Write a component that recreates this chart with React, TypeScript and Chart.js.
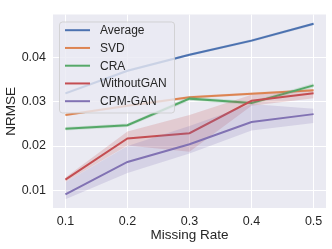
import React, { useEffect, useRef } from "react";
import { Chart, registerables } from "chart.js";

Chart.register(...registerables);

const rates = [0.1, 0.2, 0.3, 0.4, 0.5];
const xTicks = [0.1, 0.2, 0.3, 0.4, 0.5];
const yTicks = [0.01, 0.02, 0.03, 0.04];

const seriesNames = ["Average", "SVD", "CRA", "WithoutGAN", "CPM-GAN"];
const seriesColors = ["#4c72b0", "#dd8452", "#55a868", "#c44e52", "#8172b3"];

const averageMean = [0.0319, 0.037, 0.0406, 0.0438, 0.0476];
const averageLo = [0.0316, 0.0367, 0.0403, 0.0435, 0.0473];
const averageHi = [0.0322, 0.0373, 0.0409, 0.0441, 0.0479];

const svdMean = [0.027, 0.0291, 0.031, 0.0318, 0.0326];
const svdLo = [0.0267, 0.0288, 0.0307, 0.0315, 0.0323];
const svdHi = [0.0273, 0.0294, 0.0313, 0.0321, 0.0329];

const craMean = [0.0239, 0.0247, 0.0307, 0.0297, 0.0337];
const craLo = [0.0235, 0.0243, 0.0302, 0.0293, 0.0332];
const craHi = [0.0243, 0.0251, 0.0312, 0.0301, 0.0342];

const woganMean = [0.0124, 0.0217, 0.0229, 0.0302, 0.0319];
const woganLo = [0.0119, 0.0201, 0.0187, 0.0291, 0.0308];
const woganHi = [0.0129, 0.0233, 0.027, 0.0316, 0.0325];

const cpmMean = [0.0091, 0.0164, 0.0204, 0.0254, 0.0272];
const cpmLo = [0.008, 0.0139, 0.0183, 0.0235, 0.0252];
const cpmHi = [0.0118, 0.02, 0.0245, 0.0295, 0.0284];

const means = [averageMean, svdMean, craMean, woganMean, cpmMean];
const los = [averageLo, svdLo, craLo, woganLo, cpmLo];
const his = [averageHi, svdHi, craHi, woganHi, cpmHi];

const FONT = "'Liberation Sans', Arial, sans-serif";

function hexA(hex: string, a: number) {
  const r = parseInt(hex.slice(1, 3), 16);
  const g = parseInt(hex.slice(3, 5), 16);
  const b = parseInt(hex.slice(5, 7), 16);
  return `rgba(${r},${g},${b},${a})`;
}

const bgPlugin = {
  id: "plotBg",
  beforeDraw(chart: any) {
    const { ctx, chartArea } = chart;
    ctx.save();
    ctx.fillStyle = "#eaeaf2";
    ctx.fillRect(chartArea.left, chartArea.top, chartArea.right - chartArea.left, chartArea.bottom - chartArea.top);
    ctx.restore();
  },
};

const legendPlugin = {
  id: "innerLegend",
  afterDraw(chart: any) {
    const { ctx, chartArea } = chart;
    const x0 = chartArea.left + 6;
    const y0 = chartArea.top + 7;
    const w = 115;
    const h = 91;
    ctx.save();
    ctx.beginPath();
    if (ctx.roundRect) ctx.roundRect(x0 + 0.5, y0 + 0.5, w, h, 3);
    else ctx.rect(x0 + 0.5, y0 + 0.5, w, h);
    ctx.fillStyle = "rgba(234,234,242,0.8)";
    ctx.fill();
    ctx.strokeStyle = "rgba(204,204,204,0.8)";
    ctx.lineWidth = 1;
    ctx.stroke();
    ctx.font = `12px ${FONT}`;
    ctx.textBaseline = "middle";
    ctx.fillStyle = "#262626";
    seriesNames.forEach((name, i) => {
      const cy = y0 + 8.7 + i * 17.75;
      ctx.beginPath();
      ctx.moveTo(x0 + 6, cy);
      ctx.lineTo(x0 + 31, cy);
      ctx.strokeStyle = seriesColors[i];
      ctx.lineWidth = 2;
      ctx.lineCap = "butt";
      ctx.stroke();
      ctx.fillStyle = "#262626";
      ctx.fillText(name, x0 + 41, cy + 0.5);
    });
    ctx.restore();
  },
};

export default function App() {
  const ref = useRef<HTMLCanvasElement>(null);
  useEffect(() => {
    if (!ref.current) return;
    const datasets: any[] = [];
    means.forEach((m, i) => {
      const c = seriesColors[i];
      datasets.push({
        label: seriesNames[i] + " hi",
        data: rates.map((x, j) => ({ x, y: his[i][j] })),
        borderWidth: 0,
        pointRadius: 0,
        borderColor: "rgba(0,0,0,0)",
        fill: false,
        order: 10 - i,
      });
      datasets.push({
        label: seriesNames[i] + " lo",
        data: rates.map((x, j) => ({ x, y: los[i][j] })),
        borderWidth: 0,
        pointRadius: 0,
        borderColor: "rgba(0,0,0,0)",
        backgroundColor: hexA(c, 0.2),
        fill: "-1",
        order: 10 - i,
      });
      datasets.push({
        label: seriesNames[i],
        data: rates.map((x, j) => ({ x, y: m[j] })),
        borderColor: c,
        borderWidth: 2,
        pointRadius: 0,
        fill: false,
        order: 10 - i - 0.5,
      });
    });
    const chart = new Chart(ref.current, {
      type: "line",
      data: { datasets },
      plugins: [bgPlugin, legendPlugin],
      options: {
        animation: false,
        responsive: false,
        maintainAspectRatio: false,
        layout: { padding: { top: 6, right: 6, left: 0, bottom: 0 } },
        plugins: { legend: { display: false }, tooltip: { enabled: false } },
        scales: {
          x: {
            type: "linear",
            min: 0.08,
            max: 0.52,
            afterBuildTicks: (s: any) => {
              s.ticks = xTicks.map((v) => ({ value: v }));
            },
            afterFit: (s: any) => {
              s.height = 41;
            },
            grid: { color: "#ffffff", lineWidth: 1, drawTicks: false },
            border: { display: false },
            ticks: {
              padding: 6,
              color: "#262626",
              font: { family: FONT, size: 12.5 },
              maxRotation: 0,
              callback: (v: any) => Number(v).toFixed(1),
            },
            title: {
              display: true,
              text: "Missing Rate",
              color: "#262626",
              font: { family: FONT, size: 13.5 },
              padding: { top: 0, bottom: 6 },
            },
          },
          y: {
            type: "linear",
            min: 0.006,
            max: 0.0497,
            afterBuildTicks: (s: any) => {
              s.ticks = yTicks.map((v) => ({ value: v }));
            },
            afterFit: (s: any) => {
              s.width = 53;
            },
            grid: { color: "#ffffff", lineWidth: 1, drawTicks: false },
            border: { display: false },
            ticks: {
              padding: 7,
              color: "#262626",
              font: { family: FONT, size: 12.5 },
              callback: (v: any) => Number(v).toFixed(2),
            },
            title: {
              display: true,
              text: "NRMSE",
              color: "#262626",
              font: { family: FONT, size: 13.5 },
              padding: { top: 3, bottom: 0 },
            },
          },
        },
      },
    } as any);
    return () => chart.destroy();
  }, []);
  return (
    <div style={{ position: "absolute", left: 0, top: 0, width: 332, height: 249, background: "#fff" }}>
      <canvas ref={ref} width={332} height={249} style={{ width: 332, height: 249, display: "block" }} />
    </div>
  );
}
